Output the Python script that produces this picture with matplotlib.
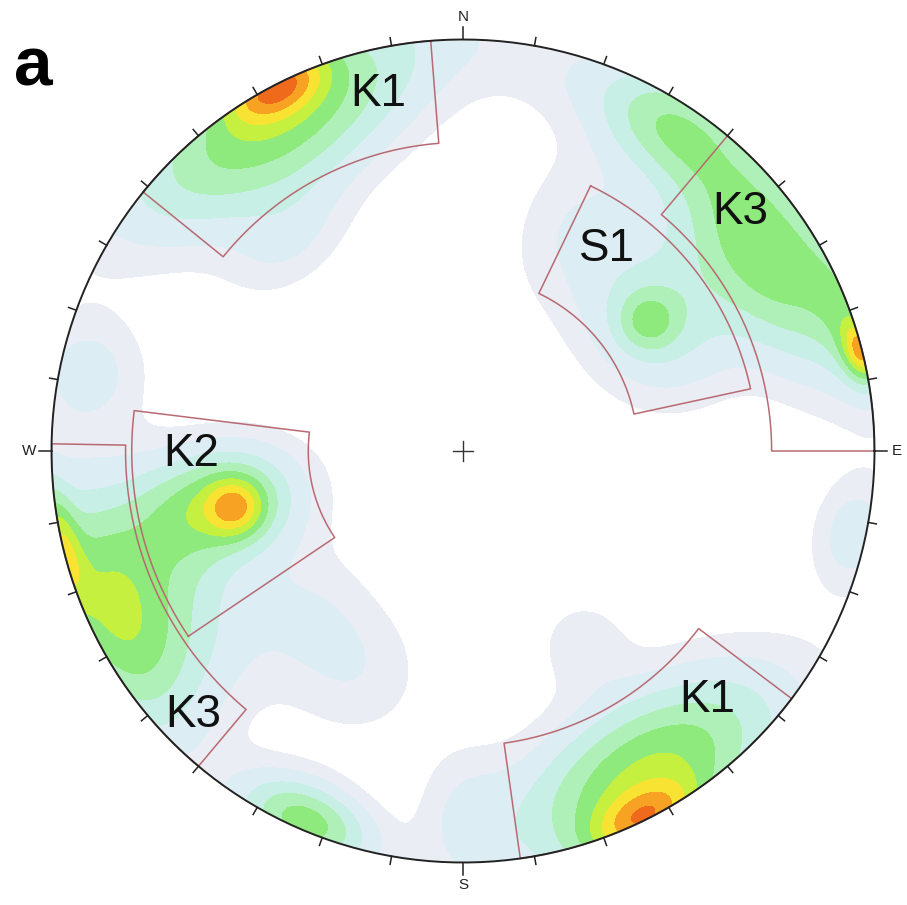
import numpy as np
import matplotlib.pyplot as plt
from matplotlib.patches import Circle

# pole-density clusters: azimuth (deg), radius in net, tangential / radial spread, weight
clu_az = [333, 330, 256, 258, 76, 72, 56, 257, 245, 154, 150, 55, 55, 203,
          20, 32, 25, 320, 282, 225, 205, 180, 148, 102, 245]
clu_r = [1.0, 0.92, 0.57, 0.60, 1.0, 0.99, 0.89, 1.0, 0.94, 1.0, 0.90, 0.55, 0.57, 0.98,
         0.95, 0.93, 0.62, 0.66, 0.93, 0.55, 0.60, 0.88, 0.55, 0.97, 0.75]
clu_st = [0.09, 0.30, 0.05, 0.10, 0.05, 0.13, 0.25, 0.11, 0.23, 0.10, 0.26, 0.05, 0.15, 0.12,
          0.25, 0.12, 0.10, 0.12, 0.10, 0.12, 0.12, 0.08, 0.08, 0.10, 0.20]
clu_sr = [0.05, 0.13, 0.05, 0.14, 0.03, 0.05, 0.12, 0.03, 0.11, 0.05, 0.13, 0.05, 0.13, 0.07,
          0.10, 0.08, 0.15, 0.08, 0.10, 0.12, 0.12, 0.12, 0.08, 0.07, 0.10]
clu_w = [4.8, 5.3, 3.4, 4.8, 4.5, 2.0, 5.3, 3.2, 5.4, 4.5, 5.6, 2.2, 3.0, 5.0,
         1.2, 2.2, 1.2, 1.3, 1.8, 1.3, 1.2, 1.2, 1.2, 2.0, 2.0]

levels = [0.8, 1.5, 2.5, 3.5, 4.5, 5.5, 6.5, 7.5, 8.5, 9.5, 50]
colors = ['#eaedf3', '#dcedf3', '#c8efe6', '#aef0b8', '#8eea7c', '#c6f040',
          '#f8e232', '#f8a224', '#f06a1c', '#e02412']

# selection windows: name, azimuth from/to, inner/outer radius
win_name = ['K1', 'K1', 'K2', 'K3', 'K3', 'S1']
win_az1 = [309, 127, 236, 40, 220, 25.7]
win_az2 = [355.5, 172, 277, 90, 271, 77.8]
win_rin = [0.75, 0.717, 0.376, 0.75, 0.82, 0.425]
win_rout = [1.0, 1.0, 0.805, 1.0, 1.0, 0.715]
lab_x = [-0.207, 0.593, -0.661, 0.673, -0.656, 0.350]
lab_y = [0.868, -0.605, -0.007, 0.581, -0.642, 0.491]

fig = plt.figure(figsize=(9.07, 9.05), dpi=100)
ax = fig.add_axes([51.5 / 907, 42.5 / 905, 823 / 907, 823 / 905])
ax.set_xlim(-1, 1)
ax.set_ylim(-1, 1)
ax.set_aspect('equal')
ax.axis('off')

# density grid
g = np.linspace(-1, 1, 401)
X, Y = np.meshgrid(g, g)
Z = np.zeros_like(X)
for az, r, st, sr, w in zip(clu_az, clu_r, clu_st, clu_sr, clu_w):
    a = np.radians(az)
    cx, cy = r * np.sin(a), r * np.cos(a)
    dr = (X - cx) * np.sin(a) + (Y - cy) * np.cos(a)
    dt = (X - cx) * np.cos(a) - (Y - cy) * np.sin(a)
    Z += w * np.exp(-0.5 * (dr**2 / sr**2 + dt**2 / st**2))

circ = Circle((0, 0), 1, transform=ax.transData, facecolor='none')
cf = ax.contourf(X, Y, Z, levels=levels, colors=colors)
cf.set_clip_path(circ)

# windows
for i in range(len(win_name)):
    t = np.radians(np.linspace(win_az1[i], win_az2[i], 60))
    xs = np.concatenate([win_rout[i] * np.sin(t), win_rin[i] * np.sin(t[::-1])])
    ys = np.concatenate([win_rout[i] * np.cos(t), win_rin[i] * np.cos(t[::-1])])
    xs = np.append(xs, xs[0])
    ys = np.append(ys, ys[0])
    ax.plot(xs, ys, color='#b86a72', lw=1.1)
    ax.text(lab_x[i], lab_y[i], win_name[i], fontsize=33, family='Liberation Sans',
            ha='center', va='center', color='#111111')

# primitive circle and ticks
t = np.linspace(0, 2 * np.pi, 400)
ax.plot(np.cos(t), np.sin(t), color='#222222', lw=1.4, clip_on=False)
for d in range(0, 360, 10):
    a = np.radians(d)
    L = 1.03 if d % 90 == 0 else 1.02
    ax.plot([np.sin(a), L * np.sin(a)], [np.cos(a), L * np.cos(a)], color='#222222',
            lw=1.1, clip_on=False)
for d, s in zip([0, 90, 180, 270], ['N', 'E', 'S', 'W']):
    a = np.radians(d)
    ax.text(1.055 * np.sin(a), 1.055 * np.cos(a), s, fontsize=11, ha='center',
            va='center', color='#222222', family='Liberation Sans')

# centre cross
ax.plot([-0.025, 0.025], [0, 0], color='#333333', lw=1)
ax.plot([0, 0], [-0.025, 0.025], color='#333333', lw=1)

fig.text(33 / 907, 1 - 68 / 905, 'a', fontsize=50, fontweight='bold',
         family='Liberation Sans', ha='center', va='center')

fig.savefig('out.png', dpi=100)
